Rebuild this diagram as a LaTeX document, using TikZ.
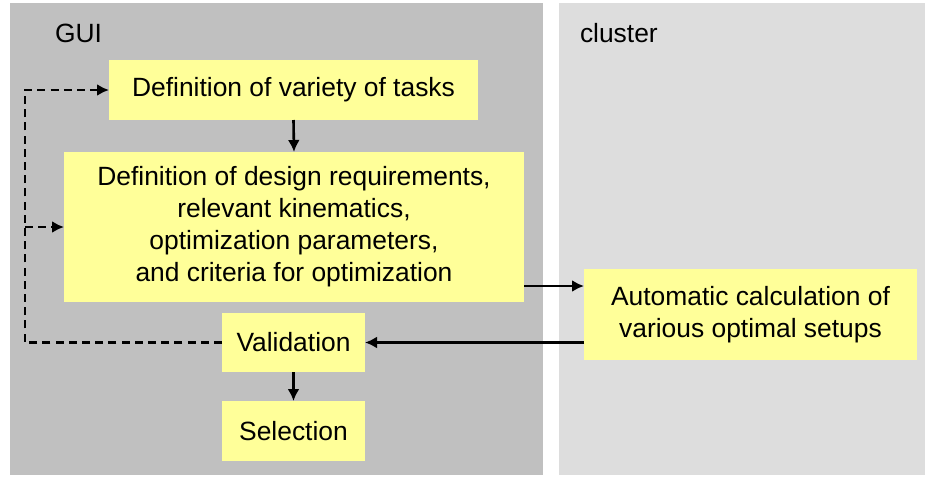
\documentclass[tikz,border=0pt]{standalone}
\usepackage{fontspec}
\setmainfont{Liberation Sans}
\usepackage{tikz}
\usetikzlibrary{arrows.meta,positioning,calc}
\definecolor{guigray}{HTML}{C0C0C0}
\definecolor{clustergray}{HTML}{DDDDDD}
\definecolor{boxyellow}{HTML}{FFFF99}

\begin{document}
\begin{tikzpicture}[x=0.5pt,y=-0.5pt,font=\fontsize{13.2}{16}\selectfont,
	every node/.style={inner sep=0pt,outer sep=0pt},
	every text node part/.style={align=center},
	stepbox/.style={fill=boxyellow,draw=none},
	flow/.style={line width=1.3pt,-{Latex[length=6pt,width=6pt]}},
	back/.style={flow,dash pattern=on 4pt off 2.6pt}]
	\useasboundingbox (0,0) rectangle (928,477);
	\fill[guigray] (10,3) rectangle (543,475);
	\fill[clustergray] (559,3) rectangle (925,475);

	\node[anchor=west] (gui) at (55,33) {GUI};
	\node[anchor=west] (cluster) at (580,33) {cluster};

	\node at (293.5,90) [stepbox,minimum width=184.5pt,minimum height=30pt] (tasks) {Definition of variety of tasks};
	\node at (294,227) [stepbox,minimum width=230pt,minimum height=75pt] (design) {Definition of design requirements,\\relevant kinematics,\\optimization parameters,\\and criteria for optimization};
	\node at (750.5,314.5) [stepbox,minimum width=166.5pt,minimum height=45.5pt] (calc) {Automatic calculation of\\various optimal setups};
	\node at (293.5,342.5) [stepbox,minimum width=71.5pt,minimum height=29.5pt] (valid) {Validation};
	\node at (293.5,431) [stepbox,minimum width=71.5pt,minimum height=30pt] (select) {Selection};

	\coordinate (corner) at (25,342.5);

	\draw[flow] (tasks.south) -- (design.north);
	\draw[flow] ([yshift=8pt]design.south east) -- ([yshift=8pt]design.south east -| calc.west);
	\draw[flow] (calc.west |- valid.east) -- (valid.east);
	\draw[flow] (valid.south) -- (select.north);
	\draw[back] (valid.west) -- (corner) |- (tasks.west);
	\draw[back] (corner |- design.west) -- (design.west);
\end{tikzpicture}
\end{document}
